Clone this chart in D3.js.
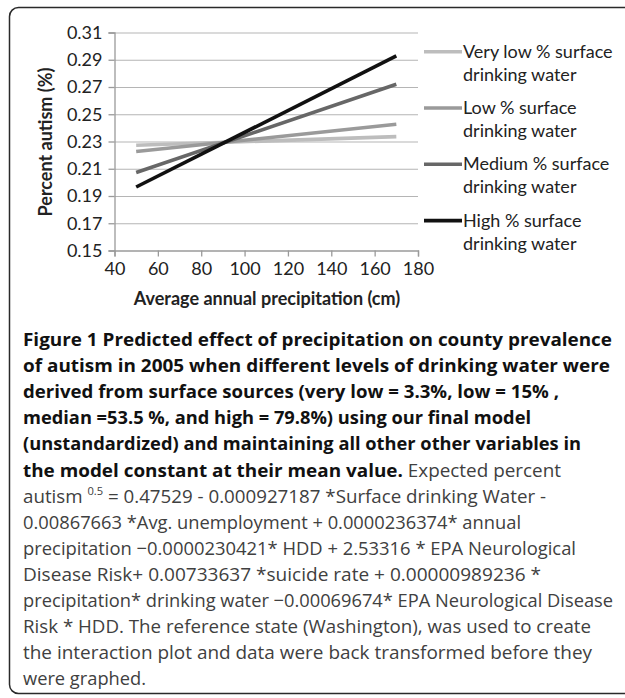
<!DOCTYPE html>
<html>
<head>
<meta charset="utf-8">
<script src="https://cdn.jsdelivr.net/npm/d3@7"></script>
<style>
  body { margin: 0; background: #fff; }
  svg { display: block; }
  .tick text { font-family: Lato, "Open Sans", sans-serif; font-size: 18px; fill: #222; }
</style>
</head>
<body>
<svg id="chart" width="625" height="698"></svg>
<script>
// data
const precipitation = [50, 170];
const xTicks = [40, 60, 80, 100, 120, 140, 160, 180];
const yTicks = [0.15, 0.17, 0.19, 0.21, 0.23, 0.25, 0.27, 0.29, 0.31];

const veryLowSeries = [0.2272, 0.2336];
const lowSeries = [0.2226, 0.2426];
const mediumSeries = [0.2072, 0.2720];
const highSeries = [0.1966, 0.2928];

const seriesNames = [
    ["Very low % surface", "drinking water"],
    ["Low % surface", "drinking water"],
    ["Medium % surface", "drinking water"],
    ["High % surface", "drinking water"]
];
const seriesColors = ["#bdbdbd", "#9a9a9a", "#676767", "#111111"];

const captionLines = [
    [{t: "Figure 1 Predicted effect of precipitation on county prevalence", b: true}],
    [{t: "of autism in 2005 when different levels of drinking water were", b: true}],
    [{t: "derived from surface sources (very low = 3.3%, low = 15% ,", b: true}],
    [{t: "median =53.5 %, and high = 79.8%) using our final model", b: true}],
    [{t: "(unstandardized) and maintaining all other other variables in", b: true}],
    [{t: "the model constant at their mean value.", b: true}, {t: " Expected percent"}],
    [{t: "autism "}, {t: "0.5", sup: true}, {t: " = 0.47529 - 0.000927187 *Surface drinking Water -"}],
    [{t: "0.00867663 *Avg. unemployment + 0.0000236374* annual"}],
    [{t: "precipitation \u22120.0000230421* HDD + 2.53316 * EPA Neurological"}],
    [{t: "Disease Risk+ 0.00733637 *suicide rate + 0.00000989236 *"}],
    [{t: "precipitation* drinking water \u22120.00069674* EPA Neurological Disease"}],
    [{t: "Risk * HDD. The reference state (Washington), was used to create"}],
    [{t: "the interaction plot and data were back transformed before they"}],
    [{t: "were graphed."}]
];
// right edge of each caption line in the figure
const captionRight = [612, 610, 559, 531, 581, 561, 546, 521, 576, 541, 613, 591, 592, 146];

const series = [veryLowSeries, lowSeries, mediumSeries, highSeries];

const svg = d3.select("#chart");

// frame around figure + caption
svg.append("rect")
    .attr("x", 9.5)
    .attr("y", 7.5)
    .attr("width", 640)
    .attr("height", 686)
    .attr("rx", 9)
    .attr("fill", "none")
    .attr("stroke", "#2a2a2a")
    .attr("stroke-width", 1.5);

const x = d3.scaleLinear().domain([40, 180]).range([114.5, 418]);
const y = d3.scaleLinear().domain([0.15, 0.31]).range([250.5, 32.5]);

const plot = svg.append("g").attr("class", "plot");

// horizontal gridlines
plot.append("g")
    .attr("class", "grid")
    .attr("transform", `translate(${x(40)},0)`)
    .call(d3.axisLeft(y).tickValues(yTicks.slice(1)).tickSize(-(x(180) - x(40))).tickFormat(""))
    .call(g => g.select(".domain").remove())
    .call(g => g.selectAll("line").attr("stroke", "#b5b5b5").attr("stroke-width", 1.2));

// y axis
plot.append("g")
    .attr("transform", `translate(${x(40)},0)`)
    .call(d3.axisLeft(y).tickValues(yTicks).tickFormat(d3.format(".2f")).tickSize(6).tickPadding(6))
    .call(g => g.select(".domain").attr("stroke", "#9a9a9a").attr("stroke-width", 1.3))
    .call(g => g.selectAll(".tick line").attr("stroke", "#9a9a9a").attr("stroke-width", 1.3));

// x axis
plot.append("g")
    .attr("transform", `translate(0,${y(0.15)})`)
    .call(d3.axisBottom(x).tickValues(xTicks).tickFormat(d3.format("d")).tickSize(6).tickPadding(6))
    .call(g => g.select(".domain").attr("stroke", "#9a9a9a").attr("stroke-width", 1.3))
    .call(g => g.selectAll(".tick line").attr("stroke", "#9a9a9a").attr("stroke-width", 1.3));

// series lines
const line = d3.line()
    .x((d, i) => x(precipitation[i]))
    .y(d => y(d));

plot.selectAll(".series")
    .data(series)
    .enter()
    .append("path")
    .attr("class", "series")
    .attr("d", d => line(d))
    .attr("fill", "none")
    .attr("stroke", (d, i) => seriesColors[i])
    .attr("stroke-width", 3.6);

// axis titles
svg.append("text")
    .text("Percent autism (%)")
    .attr("transform", "translate(52,142) rotate(-90)")
    .attr("text-anchor", "middle")
    .attr("font-family", "Lato, sans-serif")
    .attr("font-weight", "bold")
    .attr("font-size", 18)
    .attr("fill", "#222");

svg.append("text")
    .text("Average annual precipitation (cm)")
    .attr("x", 267)
    .attr("y", 305)
    .attr("text-anchor", "middle")
    .attr("font-family", "Lato, sans-serif")
    .attr("font-weight", "bold")
    .attr("font-size", 18)
    .attr("fill", "#222");

// legend
const legend = svg.append("g").attr("class", "legend");
const item = legend.selectAll(".item")
    .data(seriesNames)
    .enter()
    .append("g")
    .attr("class", "item")
    .attr("transform", (d, i) => `translate(0,${51.7 + i * 56.3})`);

item.append("line")
    .attr("x1", 424)
    .attr("x2", 462)
    .attr("stroke", (d, i) => seriesColors[i])
    .attr("stroke-width", 3.6);

item.append("text")
    .attr("font-family", "Lato, sans-serif")
    .attr("font-size", 18)
    .attr("fill", "#222")
    .selectAll("tspan")
    .data(d => d)
    .enter()
    .append("tspan")
    .attr("x", 463)
    .attr("y", (d, i) => 6 + i * 23)
    .text(d => d);

// caption
const caption = svg.append("g").attr("class", "caption");
caption.selectAll("text")
    .data(captionLines)
    .enter()
    .append("text")
    .attr("x", 23)
    .attr("y", (d, i) => 346 + i * 26.1)
    .attr("font-family", "'Open Sans', sans-serif")
    .attr("font-size", 18.5)
    .attr("textLength", (d, i) => captionRight[i] - 23)
    .attr("lengthAdjust", "spacingAndGlyphs")
    .each(function (parts) {
        const t = d3.select(this);
        parts.forEach(p => {
            const s = t.append("tspan").text(p.t);
            if (p.b) {
                s.attr("font-weight", "bold").attr("fill", "#111");
            } else {
                s.attr("fill", "#404040");
            }
            if (p.sup) {
                s.attr("font-size", 11).attr("dy", -8);
            } else if (p.t.startsWith(" = ")) {
                s.attr("dy", 8);
            }
        });
    });
</script>
</body>
</html>
